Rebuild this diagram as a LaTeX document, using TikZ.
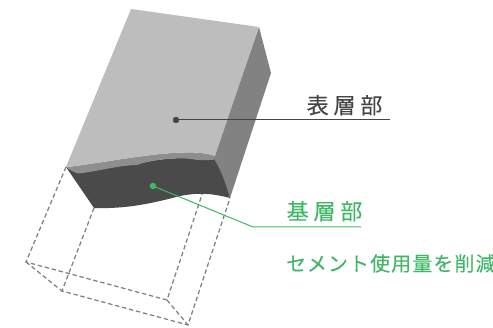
\documentclass[tikz,border=0pt]{standalone}
\usepackage{fontspec}
\newfontfamily\cjkbig[LetterSpace=22,FakeBold=0.25]{Noto Sans CJK JP}
\newfontfamily\cjksmall[LetterSpace=6,FakeBold=0.15]{Noto Sans CJK JP}
\definecolor{leafgreen}{HTML}{3FB767}
\definecolor{inkgray}{HTML}{454545}
\definecolor{topgray}{HTML}{BDBDBD}
\definecolor{sidegray}{HTML}{828282}
\definecolor{bandgray}{HTML}{8E8E8E}
\definecolor{coregray}{HTML}{4A4A4A}
\tikzset{
  ghost/.style={draw=black!50,line width=1.25pt,dash pattern=on 4.4pt off 2.8pt},
  leader/.style={line width=1pt},
  dot/.style={circle,fill,inner sep=0pt,minimum size=6.5pt},
  biglabel/.style={inner sep=0pt,anchor=base west,font=\cjkbig\fontsize{22}{26}\selectfont},
  smalllabel/.style={inner sep=0pt,anchor=base west,font=\cjksmall\fontsize{19.9}{24}\selectfont}
}
\begin{document}
\begin{tikzpicture}[x=1pt,y=-1pt]
\useasboundingbox (0,0) rectangle (493,328);
\clip (0,0) rectangle (493,328);
% ghost box
\coordinate (a1) at (66,167);
\coordinate (a2) at (94,208);
\coordinate (a3) at (214.5,157);
\coordinate (a4) at (230,198);
\coordinate (b1) at (26,262);
\coordinate (b2) at (62,291);
\coordinate (b3) at (167,300);
\coordinate (b4) at (188,325);
\draw[ghost] (a1) -- (b1) -- (b3) -- (a3);
\draw[ghost] (a2) -- (b2) -- (b4) -- (a4);
\draw[ghost] (b1) -- (b2);
\draw[ghost] (b3) -- (b4);
% right face
\fill[sidegray] (259,27) -- (271,73) -- (230,198) -- (213,158) -- cycle;
% dark base
\fill[coregray] (66,167) .. controls (70,170) and (74,172) .. (78,173)
  .. controls (95,172) and (120,164) .. (137,164.5)
  .. controls (150,160) and (170,158) .. (186,158)
  .. controls (200,160) and (208,161) .. (214,159)
  .. controls (222,172) and (226,185) .. (230,198)
  .. controls (215,194) and (200,192) .. (180,196)
  .. controls (150,204) and (125,209) .. (94,208) -- cycle;
% medium band
\fill[bandgray] (66,167) .. controls (90,165) and (150,153) .. (183,152.5)
  .. controls (195,152) and (207,153) .. (215,156) -- (214,159.5)
  .. controls (207,161) and (200,160) .. (186,158.5)
  .. controls (170,158) and (150,160) .. (137,165)
  .. controls (120,165) and (95,172) .. (78,173.5)
  .. controls (74,172) and (70,170) .. cycle;
% top face
\fill[topgray] (131,9) -- (259,27) -- (215,156)
  .. controls (207,153) and (195,152) .. (183,152.5)
  .. controls (150,153) and (90,165) .. (66,167) -- cycle;
% leaders
\node[dot,fill=inkgray] (dot1) at (176,120) {};
\coordinate (end1) at (390,120);
\draw[leader,draw=inkgray] (dot1.center) -- (end1);
\node[dot,fill=leafgreen] (dot2) at (153,186) {};
\coordinate (bend2) at (253,227);
\coordinate (end2) at (361,227);
\draw[leader,draw=leafgreen] (dot2.center) -- (bend2) -- (end2);
% labels
\node[biglabel,text=inkgray] (surf) at (306.5,113.5) {表層部};
\node[biglabel,text=leafgreen] (base) at (286.5,219.5) {基層部};
\node[smalllabel,text=leafgreen] (note) at (286,271) {セメント使用量を削減};
\end{tikzpicture}
\end{document}
